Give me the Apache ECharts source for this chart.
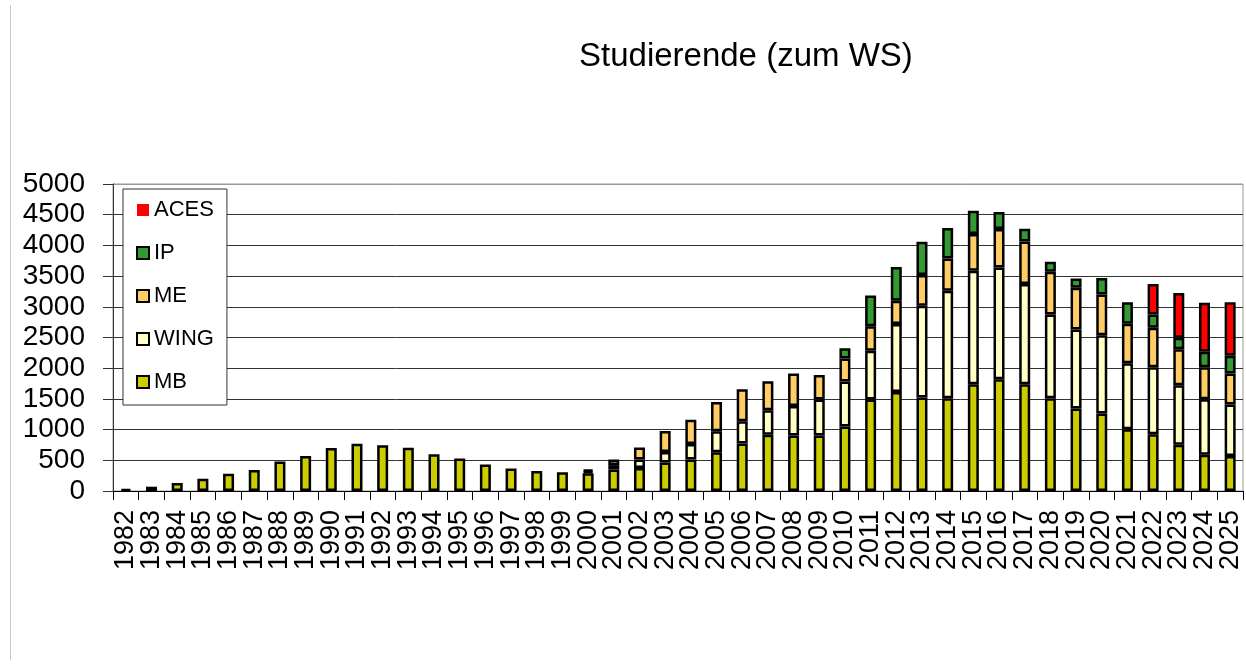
<!DOCTYPE html>
<html>
<head>
<meta charset="utf-8">
<script src="https://cdn.jsdelivr.net/npm/echarts@6/dist/echarts.min.js"></script>
<style>
html,body{margin:0;padding:0;background:#fff;}
#chart{width:1246px;height:665px;}
</style>
</head>
<body>
<div id="chart"></div>
<script>
var years = ['1982','1983','1984','1985','1986','1987','1988','1989','1990','1991','1992','1993','1994','1995','1996','1997','1998','1999','2000','2001','2002','2003','2004','2005','2006','2007','2008','2009','2010','2011','2012','2013','2014','2015','2016','2017','2018','2019','2020','2021','2022','2023','2024','2025'];
var MB   = [30,70,130,200,280,340,480,570,700,770,745,705,600,530,430,365,325,305,290,350,375,463,512,630,772,918,902,902,1049,1489,1614,1522,1511,1739,1821,1739,1511,1342,1261,1005,924,755,592,571];
var WING = [null,null,null,null,null,null,null,null,null,null,null,null,null,null,null,null,null,null,30,72,140,172,252,343,364,397,484,587,734,794,1104,1494,1750,1848,1820,1631,1364,1289,1277,1077,1092,968,903,837];
var ME   = [null,null,null,null,null,null,null,null,null,null,null,null,null,null,null,null,null,null,30,90,192,343,398,478,522,473,527,402,375,402,380,500,527,598,625,695,696,679,663,641,642,587,521,505];
var IP   = [null,null,null,null,null,null,null,null,null,null,null,null,null,null,null,null,null,null,null,null,null,null,null,null,null,null,null,null,168,500,549,544,495,380,278,207,163,152,267,353,217,185,250,288];
var ACES = [null,null,null,null,null,null,null,null,null,null,null,null,null,null,null,null,null,null,null,null,null,null,null,null,null,null,null,null,null,null,null,null,null,null,null,null,null,null,null,null,495,728,799,875];
var yTicks = {min:0, max:5000, interval:500};

var FONT = 'Liberation Sans, Arial, sans-serif';
var chart = echarts.init(document.getElementById('chart'), null, {renderer:'canvas'});
function bar(name, data, color){
  return {
    name: name, type: 'bar', stack: 'total', data: data, barWidth: 11,
    itemStyle: {color: color, borderColor: '#000', borderWidth: 2.5},
    animation: false
  };
}
var splitColors = [];
for (var i = 0; i < 10; i++) splitColors.push('#333');
splitColors.push('#999');
chart.setOption({
  backgroundColor: '#fff',
  animation: false,
  title: {
    text: 'Studierende (zum WS)', left: 579, top: 40, padding: 0,
    textStyle: {fontFamily: FONT, fontSize: 33, fontWeight: 'normal', color: '#000'}
  },
  graphic: [{
    type: 'line', shape: {x1: 10.5, y1: 5, x2: 10.5, y2: 660},
    style: {stroke: '#c8c8c8', lineWidth: 1}, silent: true
  }],
  legend: {
    orient: 'vertical', left: 123, top: 189,
    padding: [10, 13, 12, 13], itemGap: 21,
    itemWidth: 12, itemHeight: 12,
    backgroundColor: '#fff', borderColor: '#333', borderWidth: 1,
    textStyle: {fontFamily: FONT, fontSize: 22, color: '#000', padding: [0, 0, 0, 0]},
    icon: 'rect',
    data: [
      {name: 'ACES', itemStyle: {borderWidth: 0}},
      {name: 'IP', itemStyle: {borderWidth: 2}},
      {name: 'ME', itemStyle: {borderWidth: 2}},
      {name: 'WING', itemStyle: {borderWidth: 2}},
      {name: 'MB', itemStyle: {borderWidth: 2}}
    ]
  },
  grid: {
    left: 113, right: 3, top: 184, bottom: 174, containLabel: false,
    show: true, borderColor: '#999', borderWidth: 1, backgroundColor: 'transparent'
  },
  xAxis: {
    type: 'category', data: years, boundaryGap: true,
    axisLine: {show: true, lineStyle: {color: '#000', width: 1}},
    axisTick: {show: true, length: 9, lineStyle: {color: '#000'}},
    axisLabel: {interval: 0, rotate: 90, margin: 19, fontFamily: FONT, fontSize: 27, color: '#000'},
    splitLine: {show: false}
  },
  yAxis: {
    type: 'value', min: yTicks.min, max: yTicks.max, interval: yTicks.interval,
    axisLine: {show: true, lineStyle: {color: '#333', width: 1}},
    axisTick: {show: true, length: 10, lineStyle: {color: '#333'}},
    axisLabel: {margin: 28, fontFamily: FONT, fontSize: 28, color: '#000',
      formatter: function (v) { return String(v); }},
    splitLine: {show: true, lineStyle: {color: splitColors, width: 1}}
  },
  series: [
    bar('MB', MB, '#CCCC00'),
    bar('WING', WING, '#FFFFC6'),
    bar('ME', ME, '#FFCC66'),
    bar('IP', IP, '#339933'),
    bar('ACES', ACES, '#FF0000')
  ]
});
</script>
</body>
</html>
